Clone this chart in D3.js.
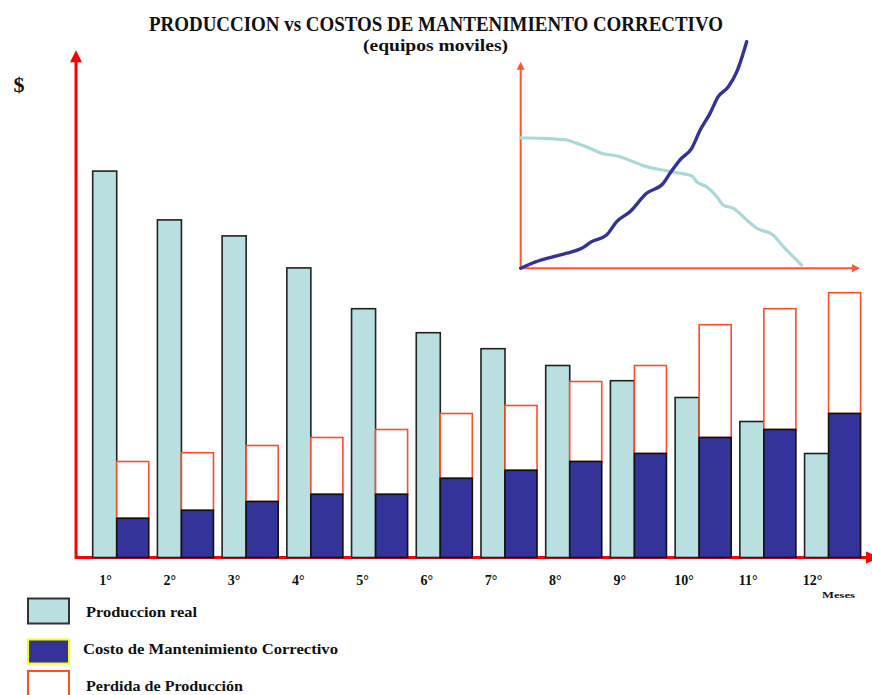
<!DOCTYPE html>
<html>
<head>
<meta charset="utf-8">
<script src="https://cdn.jsdelivr.net/npm/d3@7/dist/d3.min.js"></script>
<style>
  html, body { margin: 0; padding: 0; background: #fff; }
  svg { display: block; }
  text { font-family: "Liberation Serif", "Times New Roman", serif; font-weight: bold; fill: #111; }
</style>
</head>
<body>
<svg id="chart" width="872" height="695"></svg>
<script>
// Meses del periodo analizado
const meses = ["1°", "2°", "3°", "4°", "5°", "6°", "7°", "8°", "9°", "10°", "11°", "12°"];

// Valores mensuales (unidades monetarias relativas)
const produccionReal     = [48.3, 42.2, 40.2, 36.2, 31.1, 28.1, 26.1, 24.0, 22.1, 20.0, 17.0, 13.0];
const costoMantenimiento = [4.9, 5.9, 7.0, 7.9, 7.9, 9.9, 10.9, 12.0, 13.0, 15.0, 16.0, 18.0];
const perdidaProduccion  = [7.1, 7.2, 7.0, 7.1, 8.1, 8.1, 8.1, 10.0, 11.0, 14.1, 15.1, 15.1];

// Curvas de tendencia del recuadro: [tiempo, valor]
const tendenciaProduccion = [
  [0, 63.2], [6.7, 62.9], [13.6, 62.1], [16.5, 60.5], [20.4, 58.1], [23.4, 55.9],
  [29.3, 54.0], [33.2, 51.6], [37.1, 49.2], [43.0, 47.2], [46.9, 46.0], [50.4, 44.8],
  [51.9, 41.9], [54.8, 39.5], [57.8, 34.7], [59.7, 30.6], [62.7, 29.0], [66.6, 23.4],
  [69.6, 19.4], [74.4, 16.1], [77.4, 10.5], [82.8, 1.6]
];
const tendenciaCosto = [
  [0, 0], [3.7, 2.7], [7.7, 4.8], [13.6, 7.3], [18.0, 9.7], [20.9, 12.9], [25.3, 16.1],
  [28.3, 22.6], [32.2, 27.4], [37.1, 36.3], [42.0, 41.1], [44.0, 46.0], [46.9, 52.4],
  [50.4, 58.1], [52.9, 66.9], [55.8, 75.0], [58.2, 83.1], [61.2, 87.9], [63.7, 95.2],
  [66.6, 109.7]
];

const leyenda = ["Produccion real", "Costo de Mantenimiento Correctivo", "Perdida de Producción"];

const COL_PROD = "#b9dfe1";
const COL_COSTO = "#333399";
const COL_PERDIDA = "#ff4d26";
const COL_EJE = "#ff0000";

const svg = d3.select("#chart");

// Escalas principales
const x = d3.scaleBand().domain(meses).range([92.7, 860.6]).paddingInner(0.134).paddingOuter(0);
const y = d3.scaleLinear().domain([0, 63.4]).range([557.5, 50.3]);
const xLabel = d3.scalePoint().domain(meses).range([105, 812]);

const bw = x.bandwidth();
const wProd = bw * 0.4286;
const wCosto = bw - wProd;

// Eje X (línea roja con flecha)
const y0 = y(0);
svg.append("line")
  .attr("x1", 76).attr("x2", 868).attr("y1", y0).attr("y2", y0)
  .attr("stroke", COL_EJE).attr("stroke-width", 3);
svg.append("path")
  .attr("d", `M866,${y0 - 6} L880,${y0} L866,${y0 + 6} Z`)
  .attr("fill", COL_EJE);

// Barras
const datos = meses.map((m, i) => ({
  mes: m,
  prod: produccionReal[i],
  costo: costoMantenimiento[i],
  perdida: perdidaProduccion[i]
}));

const g = svg.append("g");

g.selectAll("rect.prod").data(datos).join("rect")
  .attr("class", "prod")
  .attr("x", d => x(d.mes))
  .attr("y", d => y(d.prod))
  .attr("width", wProd)
  .attr("height", d => y(0) - y(d.prod))
  .attr("fill", COL_PROD)
  .attr("stroke", "#222").attr("stroke-width", 1.6);

g.selectAll("rect.perdida").data(datos).join("rect")
  .attr("class", "perdida")
  .attr("x", d => x(d.mes) + wProd)
  .attr("y", d => y(d.costo + d.perdida))
  .attr("width", wCosto)
  .attr("height", d => y(d.costo) - y(d.costo + d.perdida))
  .attr("fill", "#fff")
  .attr("stroke", COL_PERDIDA).attr("stroke-width", 1.6);

g.selectAll("rect.costo").data(datos).join("rect")
  .attr("class", "costo")
  .attr("x", d => x(d.mes) + wProd)
  .attr("y", d => y(d.costo))
  .attr("width", wCosto)
  .attr("height", d => y(0) - y(d.costo))
  .attr("fill", COL_COSTO)
  .attr("stroke", "#111").attr("stroke-width", 1.6);

// Eje Y (línea roja con flecha)
svg.append("line")
  .attr("x1", 76).attr("x2", 76).attr("y1", y0 + 1.5).attr("y2", y.range()[1] + 10)
  .attr("stroke", COL_EJE).attr("stroke-width", 3);
svg.append("path")
  .attr("d", `M70,${y.range()[1] + 12} L76,${y.range()[1]} L82,${y.range()[1] + 12} Z`)
  .attr("fill", COL_EJE);

// Etiquetas de meses
const ax = svg.append("g")
  .attr("transform", `translate(0,${y0})`)
  .call(d3.axisBottom(xLabel).tickSize(0).tickPadding(18));
ax.select(".domain").remove();
ax.selectAll("text")
  .attr("font-family", "Liberation Serif, Times New Roman, serif")
  .attr("font-weight", "bold")
  .attr("font-size", 14)
  .attr("fill", "#111");

svg.append("text")
  .attr("x", 822).attr("y", 598)
  .attr("font-size", 9)
  .attr("textLength", 33).attr("lengthAdjust", "spacingAndGlyphs")
  .text("Meses");

// Símbolo de moneda del eje Y
svg.append("text")
  .attr("x", 19).attr("y", 92)
  .attr("text-anchor", "middle")
  .attr("font-size", 22)
  .text("$");

// Títulos
svg.append("text")
  .attr("x", 149).attr("y", 31)
  .attr("font-size", 20)
  .attr("textLength", 574).attr("lengthAdjust", "spacingAndGlyphs")
  .text("PRODUCCION vs COSTOS DE MANTENIMIENTO CORRECTIVO");
svg.append("text")
  .attr("x", 363).attr("y", 51)
  .attr("font-size", 17)
  .attr("textLength", 145).attr("lengthAdjust", "spacingAndGlyphs")
  .text("(equipos moviles)");

// Recuadro con curvas de tendencia
const ix = d3.scaleLinear().domain([0, 100]).range([520.7, 860]);
const iy = d3.scaleLinear().domain([0, 100]).range([268.3, 61.7]);
const COL_EJE_I = "#ff5530";

svg.append("line")
  .attr("x1", ix(0)).attr("x2", ix(0)).attr("y1", iy(0)).attr("y2", iy(100) + 6)
  .attr("stroke", COL_EJE_I).attr("stroke-width", 2);
svg.append("path")
  .attr("d", `M${ix(0) - 4},${iy(100) + 8} L${ix(0)},${iy(100)} L${ix(0) + 4},${iy(100) + 8} Z`)
  .attr("fill", COL_EJE_I);
svg.append("line")
  .attr("x1", ix(0)).attr("x2", ix(100) - 6).attr("y1", iy(0)).attr("y2", iy(0))
  .attr("stroke", COL_EJE_I).attr("stroke-width", 2);
svg.append("path")
  .attr("d", `M${ix(100) - 8},${iy(0) - 4} L${ix(100)},${iy(0)} L${ix(100) - 8},${iy(0) + 4} Z`)
  .attr("fill", COL_EJE_I);

const linea = d3.line().x(d => ix(d[0])).y(d => iy(d[1])).curve(d3.curveMonotoneX);

svg.append("path").datum(tendenciaProduccion)
  .attr("d", linea)
  .attr("fill", "none")
  .attr("stroke", "#a9d9da").attr("stroke-width", 3.2)
  .attr("stroke-linejoin", "round").attr("stroke-linecap", "round");
svg.append("path").datum(tendenciaCosto)
  .attr("d", linea)
  .attr("fill", "none")
  .attr("stroke", "#333399").attr("stroke-width", 3.4)
  .attr("stroke-linejoin", "round").attr("stroke-linecap", "round");

// Leyenda
const itemsLeyenda = [
  { texto: leyenda[0], fill: COL_PROD, stroke: "#333", y: 598.5, h: 25, tx: 86, ty: 617, len: 111 },
  { texto: leyenda[1], fill: COL_COSTO, stroke: "#ffff00", y: 639.5, h: 24, tx: 83, ty: 654, len: 255 },
  { texto: leyenda[2], fill: "#fff", stroke: COL_PERDIDA, y: 671, h: 30, tx: 86, ty: 691, len: 157 }
];
const lg = svg.append("g");
lg.selectAll("rect").data(itemsLeyenda).join("rect")
  .attr("x", 28).attr("y", d => d.y)
  .attr("width", 41).attr("height", d => d.h)
  .attr("fill", d => d.fill)
  .attr("stroke", d => d.stroke).attr("stroke-width", 2);
lg.selectAll("text").data(itemsLeyenda).join("text")
  .attr("x", d => d.tx).attr("y", d => d.ty)
  .attr("font-size", 14)
  .attr("textLength", d => d.len).attr("lengthAdjust", "spacingAndGlyphs")
  .text(d => d.texto);
</script>
</body>
</html>
